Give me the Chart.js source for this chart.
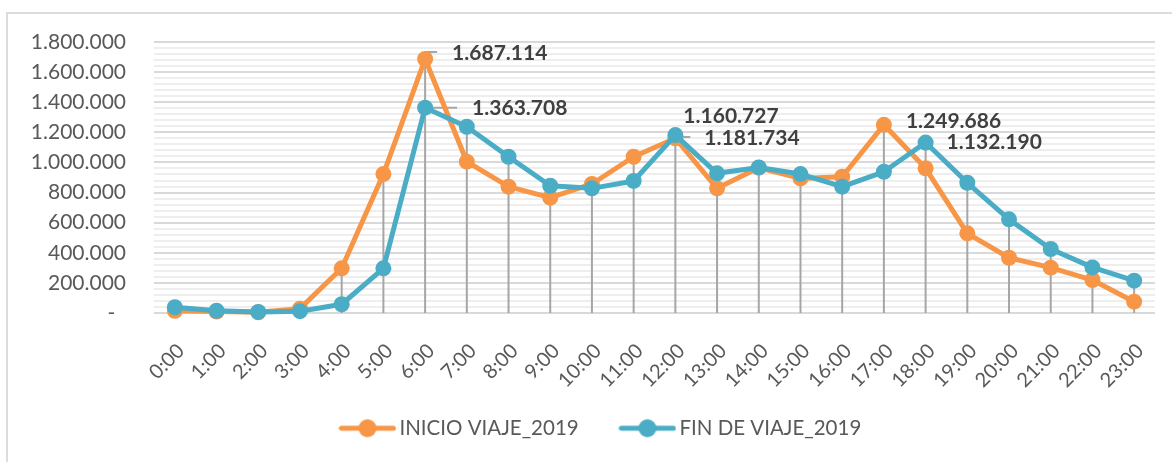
<!DOCTYPE html>
<html><head><meta charset="utf-8">
<script src="https://cdn.jsdelivr.net/npm/chart.js@4/dist/chart.umd.min.js"></script>
<style>
html,body{margin:0;padding:0;background:#fff;overflow:hidden;}
#wrap{position:relative;width:1172px;height:462px;overflow:hidden;background:#fff;}
#frame{position:absolute;left:6px;top:12px;width:1300px;height:600px;border:2px solid #dcdcdc;box-sizing:border-box;}
canvas{position:absolute;left:0;top:0;}
</style></head><body>
<div id="wrap"><div id="frame"></div><canvas id="c" width="1172" height="462"></canvas></div>
<script>
// ---- data ----
const hours = ["0:00","1:00","2:00","3:00","4:00","5:00","6:00","7:00","8:00","9:00","10:00","11:00","12:00","13:00","14:00","15:00","16:00","17:00","18:00","19:00","20:00","21:00","22:00","23:00"];
const inicioViaje2019 = [15000,10000,5000,29000,297000,923000,1687114,1005000,839000,766000,857000,1038000,1160727,828000,965000,894000,905000,1249686,961000,529000,367000,301000,219000,75000];
const finViaje2019 = [38000,15000,7000,12000,58000,297000,1363708,1237000,1038000,845000,828000,877000,1181734,928000,967000,923000,839000,938000,1132190,865000,622000,425000,303000,215000];
const seriesNames = ["INICIO VIAJE_2019","FIN DE VIAJE_2019"];
const yMax = 1800000;
const yMajorStep = 200000;
const yMinorStep = 40000;

// ---- styling ----
const ORANGE = '#F79646', BLUE = '#4BACC6';
const FONT = 'Lato, "Liberation Sans", sans-serif';
const TXT = '#595959';

function fmt(v){ return Math.round(v).toString().replace(/\B(?=(\d{3})+(?!\d))/g,'.'); }

// labelled points: dataset index, point index, text offset, leader path
const labelSpecs = [
  {ds:0, i:6,  dx:27, dy:-6, leader:[[0,-7],[12,-7]]},
  {ds:1, i:6,  dx:47, dy:1,  leader:[[0,0],[32,0]]},
  {ds:0, i:12, dx:8,  dy:-22, leader:null},
  {ds:1, i:12, dx:29, dy:3,  leader:[[0,2],[15,2]]},
  {ds:0, i:17, dx:22, dy:-4, leader:null},
  {ds:1, i:18, dx:21, dy:0,  leader:null}
];

function legendImg(color){
  const c = document.createElement('canvas');
  c.width = 58; c.height = 20;
  const g = c.getContext('2d');
  g.strokeStyle = color; g.lineWidth = 5; g.lineCap = 'round';
  g.beginPath(); g.moveTo(3,10); g.lineTo(55,10); g.stroke();
  g.fillStyle = color; g.beginPath(); g.arc(29,10,9,0,Math.PI*2); g.fill();
  return c;
}
const legendImgs = [legendImg(ORANGE), legendImg(BLUE)];

const dropLines = {
  id:'dropLines',
  beforeDatasetsDraw(chart){
    const ctx = chart.ctx, xs = chart.scales.x, ys = chart.scales.y;
    const y0 = ys.getPixelForValue(0);
    ctx.save();
    ctx.strokeStyle = '#a6a6a6'; ctx.lineWidth = 2;
    hours.forEach((h,i)=>{
      const top = Math.max(...chart.data.datasets.map(d=>d.data[i]));
      const x = xs.getPixelForValue(i);
      ctx.beginPath(); ctx.moveTo(x, y0); ctx.lineTo(x, ys.getPixelForValue(top)); ctx.stroke();
    });
    labelSpecs.forEach(s=>{
      if(!s.leader) return;
      const el = chart.getDatasetMeta(s.ds).data[s.i];
      ctx.beginPath(); ctx.moveTo(el.x, el.y);
      s.leader.forEach(p=>ctx.lineTo(el.x+p[0], el.y+p[1]));
      ctx.stroke();
    });
    ctx.restore();
  }
};

const dataLabels = {
  id:'dataLabels',
  afterDatasetsDraw(chart){
    const ctx = chart.ctx;
    ctx.save();
    ctx.font = 'bold 21px ' + FONT;
    ctx.fillStyle = '#404040';
    ctx.textAlign = 'left'; ctx.textBaseline = 'middle';
    labelSpecs.forEach(s=>{
      const el = chart.getDatasetMeta(s.ds).data[s.i];
      const v = chart.data.datasets[s.ds].data[s.i];
      ctx.fillText(fmt(v), el.x + s.dx, el.y + s.dy);
    });
    ctx.restore();
  }
};

// keep the legend box compact in the layout, then nudge it to the reference spot
const legendShift = {
  id:'legendShift',
  beforeLayout(chart){
    const L = chart.legend;
    if(L && !L._compact){
      const f = L.fit.bind(L);
      L.fit = function(){ f(); this.height = 61; };
      L._compact = true;
    }
  },
  afterLayout(chart){
    const L = chart.legend; if(!L) return;
    const dx = 26, dy = -30;
    L.left += dx; L.right += dx; L.top += dy;
    L.bottom = chart.height; L.height = L.bottom - L.top;
  }
};

const mkDs = (label, data, color, order) => ({
  label, data, order,
  borderColor: color, backgroundColor: color,
  pointBackgroundColor: color, pointBorderColor: color,
  borderWidth: 5, pointRadius: 8, pointHoverRadius: 8, pointBorderWidth: 0,
  tension: 0, borderJoinStyle: 'round', borderCapStyle: 'round', clip: false
});

new Chart(document.getElementById('c'), {
  type: 'line',
  data: {
    labels: hours,
    datasets: [
      mkDs(seriesNames[0], inicioViaje2019, ORANGE, 2),
      mkDs(seriesNames[1], finViaje2019, BLUE, 1)
    ]
  },
  options: {
    responsive: false, animation: false, devicePixelRatio: 1,
    layout: { padding: { top: 42, right: 17, bottom: 0, left: 0 } },
    plugins: {
      tooltip: { enabled: false },
      legend: {
        position: 'bottom',
        labels: {
          usePointStyle: true, pointStyleWidth: 43.5,
          padding: 47, color: TXT,
          font: { family: FONT, size: 20.5 },
          generateLabels(chart){
            return chart.data.datasets.map((d,i)=>({
              text: d.label, fillStyle: d.borderColor, strokeStyle: d.borderColor,
              fontColor: TXT, pointStyle: legendImgs[i], datasetIndex: i, hidden: false, lineWidth: 0
            }));
          }
        }
      }
    },
    scales: {
      x: {
        offset: true,
        grid: { display: false },
        border: { display: false },
        ticks: {
          autoSkip: false, minRotation: 45, maxRotation: 45,
          color: TXT, font: { family: FONT, size: 20 }, padding: 18, labelOffset: 6
        },
        afterFit(s){ s.height = 88; }
      },
      y: {
        min: 0, max: yMax,
        border: { display: false },
        grid: {
          drawTicks: false,
          color: c => (c.tick && c.tick.value % yMajorStep === 0) ? '#d9d9d9' : '#eeeeee',
          lineWidth: 2
        },
        ticks: {
          stepSize: yMinorStep, autoSkip: false, padding: 28,
          color: TXT, font: { family: FONT, size: 21 },
          callback: v => v === 0 ? '-  ' : (v % yMajorStep === 0 ? fmt(v) : '')
        },
        afterFit(s){ s.width = 154; }
      }
    }
  },
  plugins: [dropLines, dataLabels, legendShift]
});
</script>
</body></html>
